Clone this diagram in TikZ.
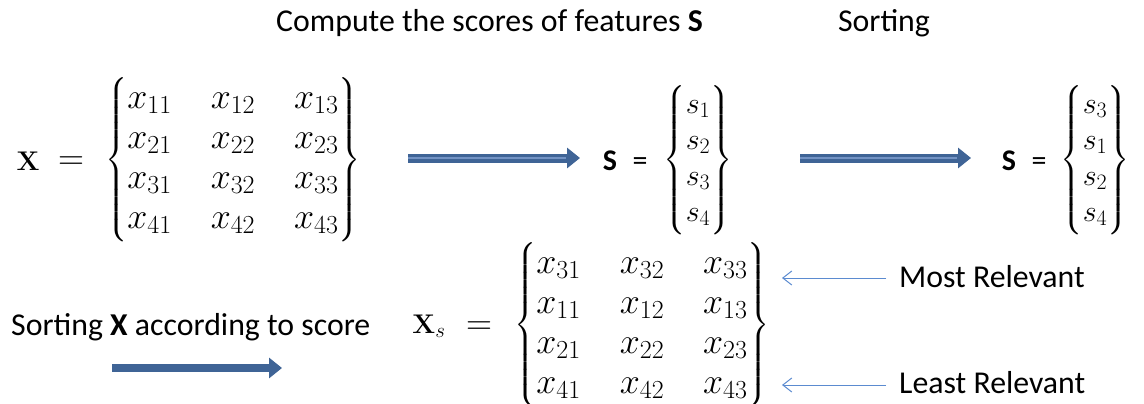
\RequirePackage{fix-cm}
\documentclass[tikz,border=0pt]{standalone}
\usepackage{amsmath}
\usepackage[no-math]{fontspec}
\setmainfont{Carlito}
\usetikzlibrary{arrows.meta}
\DeclareMathSizes{36}{36}{26}{20}
\DeclareMathSizes{30}{30}{22}{17}
\DeclareMathSizes{27}{27}{21}{16}
\definecolor{arrowblue}{HTML}{3F6496}
\definecolor{arrowlight}{HTML}{7393C4}
\definecolor{thinblue}{HTML}{5B8BD0}
\newcommand{\mfont}{\fontsize{36}{40}\selectfont\setlength{\arraycolsep}{19.5pt}}
\newcommand{\vfont}{\fontsize{30}{36}\selectfont}
\newcommand{\lblfont}{\fontsize{27}{30}\selectfont}
\begin{document}
\begin{tikzpicture}[x=1pt,y=-1pt,
  txt/.style={inner sep=0pt, font=\fontsize{31.8}{36}\selectfont},
  stxt/.style={inner sep=0pt, font=\fontsize{30}{34}\selectfont},
  mathbox/.style={inner sep=0pt},
  bigarrow/.style={line width=9pt, draw=arrowblue, -{Triangle[length=13pt,width=20pt]}},
  midline/.style={line width=1.6pt, draw=arrowlight},
  thinarrow/.style={line width=1pt, draw=thinblue, -{Straight Barb[length=9pt,width=14pt]}}]
\useasboundingbox[fill=white] (0,0) rectangle (1144,404);

% titles
\node[txt, anchor=base west] (title) at (276,32) {Compute the scores of features \textbf{S}};
\node[txt, anchor=base] (sorting) at (884,32) {Sorting};

% X matrix
\node[mathbox, anchor=base] (Xlbl) at (28,170) {\lblfont$\mathbf{X}$};
\node[mathbox, anchor=base] (Xeq) at (71,169) {\mfont$=$};
\node[mathbox] (Xmat) at (233,160) {\mfont$\left\{\begin{matrix}
x_{11} & x_{12} & x_{13}\\
x_{21} & x_{22} & x_{23}\\
x_{31} & x_{32} & x_{33}\\
x_{41} & x_{42} & x_{43}
\end{matrix}\right\}$};

% arrow 1
\coordinate (a1s) at (408,158);
\coordinate (a1e) at (580,158);
\coordinate (a1m) at (566,158);
\draw[bigarrow] (a1s) -- (a1e);
\draw[midline] (a1s) -- (a1m);

% S vector 1
\node[stxt, anchor=base] (S1lbl) at (610,170) {\textbf{S}};
\node[stxt, anchor=base] (S1eq) at (640,170) {=};
\node[mathbox] (S1vec) at (698,160) {\vfont$\left\{\begin{matrix}
s_1\\ s_2\\ s_3\\ s_4
\end{matrix}\right\}$};

% arrow 2
\coordinate (a2s) at (800,158);
\coordinate (a2e) at (971,158);
\coordinate (a2m) at (957,158);
\draw[bigarrow] (a2s) -- (a2e);
\draw[midline] (a2s) -- (a2m);

% S vector 2
\node[stxt, anchor=base] (S2lbl) at (1009,170) {\textbf{S}};
\node[stxt, anchor=base] (S2eq) at (1039,170) {=};
\node[mathbox] (S2vec) at (1095,160) {\vfont$\left\{\begin{matrix}
s_3\\ s_1\\ s_2\\ s_4
\end{matrix}\right\}$};

% sorting X
\node[txt, anchor=base west] (sortX) at (11,335) {Sorting \textbf{X} according to score};
\coordinate (a3s) at (112,368);
\coordinate (a3e) at (282,368);
\draw[bigarrow, line width=8pt] (a3s) -- (a3e);

% Xs matrix
\node[mathbox, anchor=base] (Xslbl) at (429,333) {\lblfont$\mathbf{X}_s$};
\node[mathbox, anchor=base] (Xseq) at (479,334) {\mfont$=$};
\node[mathbox] (Xsmat) at (642,325) {\mfont$\left\{\begin{matrix}
x_{31} & x_{32} & x_{33}\\
x_{11} & x_{12} & x_{13}\\
x_{21} & x_{22} & x_{23}\\
x_{41} & x_{42} & x_{43}
\end{matrix}\right\}$};

% relevance labels
\node[txt, anchor=base west] (most) at (899,287) {Most Relevant};
\node[txt, anchor=base west] (least) at (899,393) {Least Relevant};
\coordinate (ms) at (886,278);
\coordinate (mt) at (782,278);
\coordinate (ls) at (886,385);
\coordinate (lt) at (782,385);
\draw[thinarrow] (ms) -- (mt);
\draw[thinarrow] (ls) -- (lt);
\end{tikzpicture}
\end{document}
